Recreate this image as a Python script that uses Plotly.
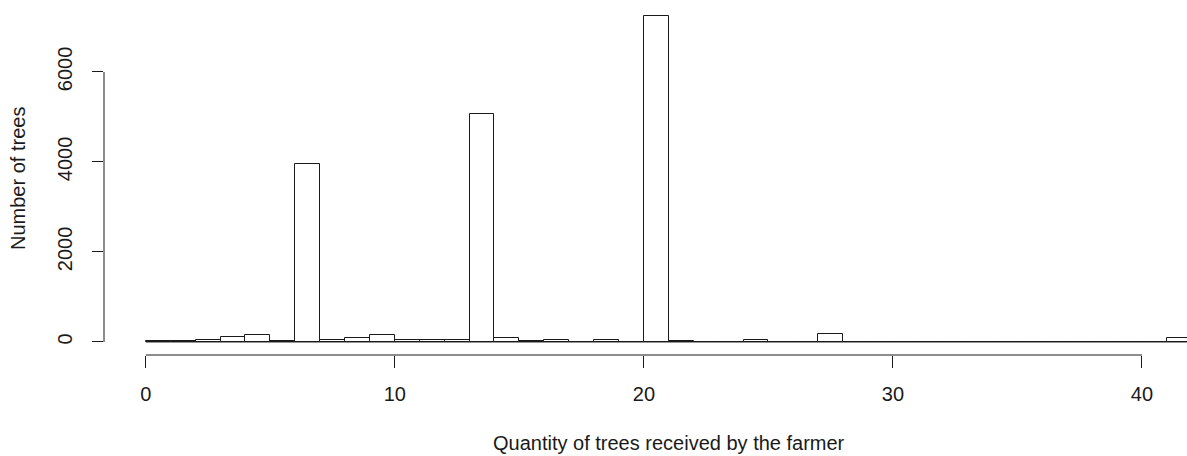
import plotly.graph_objects as go

# Histogram of trees received per farmer, bins of width 1 from 0 to 42
bin_edges = list(range(0, 43))
counts = [15, 15, 50, 120, 150, 20, 3964, 50, 80, 165,
          50, 45, 45, 5068, 80, 20, 50, 0, 50, 0,
          7243, 20, 0, 0, 50, 0, 0, 170, 0, 0,
          0, 0, 0, 0, 0, 0, 0, 0, 0, 0,
          0, 80]
x_ticks = [0, 10, 20, 30, 40]
y_ticks = [0, 2000, 4000, 6000]
x_title = "Quantity of trees received by the farmer"
y_title = "Number of trees"

W, H = 1187, 456
ML, MR, MT, MB = 104, 0, 3, 101
FONT = "Liberation Sans, Arial, sans-serif"
FS = 20
INK = "#1a1a1a"

centers = [(a + b) / 2 for a, b in zip(bin_edges[:-1], bin_edges[1:])]
widths = [b - a for a, b in zip(bin_edges[:-1], bin_edges[1:])]

fig = go.Figure(go.Bar(
    x=centers, y=counts, width=widths,
    marker=dict(color="white", line=dict(color=INK, width=1)),
    hoverinfo="x+y",
))

# axis ranges padded 4% like base R graphics; the right side runs past the page edge
x_span = bin_edges[-1] - bin_edges[0]
x_lo = bin_edges[0] - 0.04 * x_span
full_plot_w = 1233.6 - ML
x_hi = x_lo + 1.08 * x_span * (W - ML - MR) / full_plot_w

y_max = max(counts)
y_lo, y_hi = -0.04 * y_max, 1.04 * y_max

axis_line = dict(color=INK, width=1)
shapes = [
    # bar baseline across every bin (zero-count bins draw as a flat line)
    dict(type="line", xref="x", yref="y", x0=bin_edges[0], x1=bin_edges[-1],
         y0=0, y1=0, line=axis_line),
    # x axis line spanning first to last tick
    dict(type="line", xref="x", yref="paper", x0=x_ticks[0], x1=x_ticks[-1],
         y0=0, y1=0, line=axis_line),
    # y axis line spanning first to last tick
    dict(type="line", xref="paper", yref="y", x0=0, x1=0,
         y0=y_ticks[0], y1=y_ticks[-1], line=axis_line),
]

plot_w = W - ML - MR
plot_h = H - MT - MB
annotations = [
    dict(text=x_title, xref="x", yref="paper",
         x=(bin_edges[0] + bin_edges[-1]) / 2, y=(H - 443 - MB) / plot_h,
         showarrow=False, xanchor="center", yanchor="middle",
         font=dict(family=FONT, size=FS, color=INK)),
    dict(text=y_title, xref="paper", yref="paper",
         x=(18 - ML) / plot_w, y=0.5, textangle=-90,
         showarrow=False, xanchor="center", yanchor="middle",
         font=dict(family=FONT, size=FS, color=INK)),
]

fig.update_layout(
    width=W, height=H,
    margin=dict(l=ML, r=MR, t=MT, b=MB, pad=0),
    paper_bgcolor="white", plot_bgcolor="white",
    showlegend=False, bargap=0,
    shapes=shapes, annotations=annotations,
    xaxis=dict(range=[x_lo, x_hi], tickvals=x_ticks, ticks="outside",
               ticklen=12, tickwidth=1, tickcolor=INK, showline=False,
               showgrid=False, zeroline=False, ticklabelstandoff=9,
               tickfont=dict(family=FONT, size=FS, color=INK)),
    yaxis=dict(range=[y_lo, y_hi], tickvals=y_ticks, ticks="outside",
               ticklen=11, tickwidth=1, tickcolor=INK, showline=False,
               showgrid=False, zeroline=False, tickangle=-90,
               ticklabelstandoff=12,
               tickfont=dict(family=FONT, size=FS, color=INK)),
)

fig.write_html("out.html")
